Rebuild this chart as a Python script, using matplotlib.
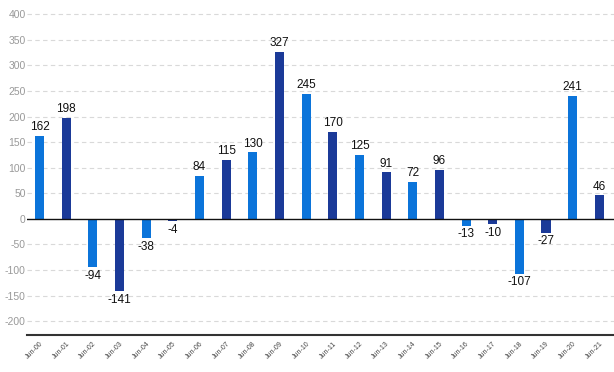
import matplotlib
matplotlib.use("Agg")
import matplotlib.pyplot as plt

# Data
years = ["Jun-%02d" % y for y in range(0, 22)]
values = [162, 198, -94, -141, -38, -4, 84, 115, 130, 327, 245, 170,
          125, 91, 72, 96, -13, -10, -107, -27, 241, 46]
light_blue = "#0b74da"
dark_blue = "#1b3a98"
colors = [light_blue if i % 2 == 0 else dark_blue for i in range(len(values))]

plt.rcParams["font.family"] = ["Liberation Sans", "DejaVu Sans"]
plt.rcParams["axes.unicode_minus"] = False

fig = plt.figure(figsize=(6.14, 3.72), dpi=100)
ax = fig.add_axes([0.044, 0.0995, 0.956, 0.9005])

x = list(range(len(values)))
ax.bar(x, values, width=0.34, color=colors, zorder=3)

# value labels
for xi, v in zip(x, values):
    if v >= 0:
        ax.annotate(str(v), (xi, v), xytext=(0, 2), textcoords="offset points",
                    ha="center", va="bottom", fontsize=8.5, color="#111111")
    else:
        ax.annotate(str(v), (xi, v), xytext=(0, -2), textcoords="offset points",
                    ha="center", va="top", fontsize=8.5, color="#111111")

ax.set_xlim(-0.47, len(values) - 0.45)
ax.set_ylim(-227, 428)
ax.set_yticks(range(-200, 401, 50))
ax.tick_params(axis="y", length=0, labelsize=7.5, labelcolor="#999999", pad=1)
ax.set_xticks(x)
ax.set_xticklabels(years, rotation=45, ha="right", rotation_mode="anchor",
                   fontsize=5, color="#444444")
ax.tick_params(axis="x", length=0, pad=4)

for yv in range(-200, 401, 50):
    if yv != 0:
        ax.axhline(yv, color="#d9d9d9", lw=0.8, ls=(0, (4, 3)), zorder=1)
ax.axhline(0, color="#111111", lw=1.0, zorder=4)

for side in ["top", "right", "left"]:
    ax.spines[side].set_visible(False)
ax.spines["bottom"].set_color("#333333")
ax.spines["bottom"].set_linewidth(1.5)

fig.savefig("out.png", dpi=100)
